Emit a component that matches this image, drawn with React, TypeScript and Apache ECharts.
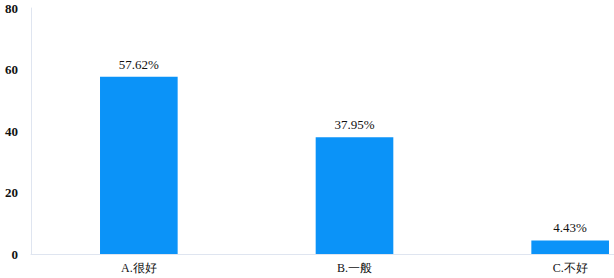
import React, { useEffect, useRef } from "react";
import * as echarts from "echarts";

const categories = ["A.很好", "B.一般", "C.不好"];
const values = [57.62, 37.95, 4.43];
const yTicks = { min: 0, max: 80, interval: 20 };

export default function App() {
  const ref = useRef<HTMLDivElement>(null);
  useEffect(() => {
    if (!ref.current) return;
    const chart = echarts.init(ref.current, null, { renderer: "svg" });
    const font = "serif";
    chart.setOption({
      animation: false,
      textStyle: { fontFamily: font },
      grid: { left: 31, right: 22, top: 8, bottom: 24, containLabel: false },
      xAxis: {
        type: "category",
        data: categories,
        axisLine: { lineStyle: { color: "#dfe5f0", width: 1 } },
        axisTick: { show: false },
        axisLabel: { color: "#111", fontFamily: font, fontSize: 12, margin: 8 },
      },
      yAxis: {
        type: "value",
        min: yTicks.min,
        max: yTicks.max,
        interval: yTicks.interval,
        axisLine: { show: true, lineStyle: { color: "#dfe5f0", width: 1 } },
        axisTick: { show: false },
        splitLine: { show: false },
        axisLabel: { color: "#111", fontFamily: font, fontSize: 13, fontWeight: "bold", margin: 13 },
      },
      series: [
        {
          type: "bar",
          data: values,
          barWidth: "36%",
          itemStyle: { color: "#0b93f8" },
          label: {
            show: true,
            position: "top",
            formatter: "{c}%",
            color: "#111",
            fontFamily: font,
            fontSize: 13,
            distance: 6,
          },
        },
      ],
    });
    return () => chart.dispose();
  }, []);
  return (
    <div style={{ position: "fixed", left: 0, top: 0, width: 614, height: 278, overflow: "hidden", background: "#fff" }}>
      <div ref={ref} style={{ width: 700, height: 278 }} />
    </div>
  );
}
